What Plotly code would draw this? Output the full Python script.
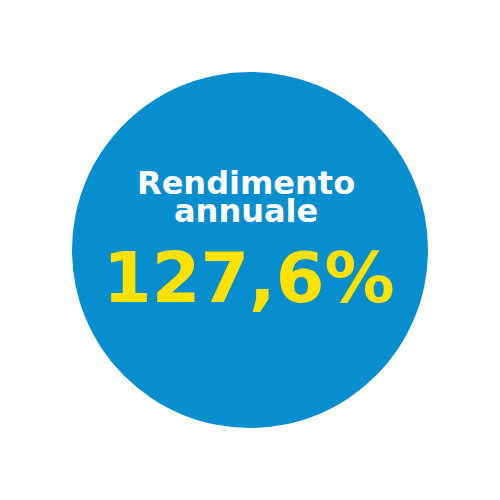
import plotly.graph_objects as go

# Text content
title_lines = ["Rendimento", "annuale"]
value_label = "127,6%"

blue = "#068ecf"
yellow = "#ffe100"

fig = go.Figure()

# background circle (page has an 8px body margin, ranges compensate for it)
fig.add_shape(
    type="circle",
    xref="x",
    yref="y",
    x0=72,
    y0=72,
    x1=428,
    y1=428,
    fillcolor=blue,
    line={"width": 0},
    layer="below",
)

fig.add_annotation(
    x=246, y=317, text="<b>" + title_lines[0] + "</b>",
    showarrow=False, font={"family": "DejaVu Sans", "size": 32, "color": "white"},
)
fig.add_annotation(
    x=246, y=289, text="<b>" + title_lines[1] + "</b>",
    showarrow=False, font={"family": "DejaVu Sans", "size": 32, "color": "white"},
)
fig.add_annotation(
    x=249, y=222, text="<b>" + value_label + "</b>",
    showarrow=False, font={"family": "DejaVu Sans", "size": 70, "color": yellow},
)

fig.update_layout(
    width=500,
    height=500,
    margin={"l": 0, "r": 0, "t": 0, "b": 0},
    paper_bgcolor="white",
    plot_bgcolor="white",
    showlegend=False,
    xaxis={"range": [8, 508], "visible": False, "fixedrange": True},
    yaxis={"range": [-8, 492], "visible": False, "fixedrange": True},
)

fig.write_html("out.html")
